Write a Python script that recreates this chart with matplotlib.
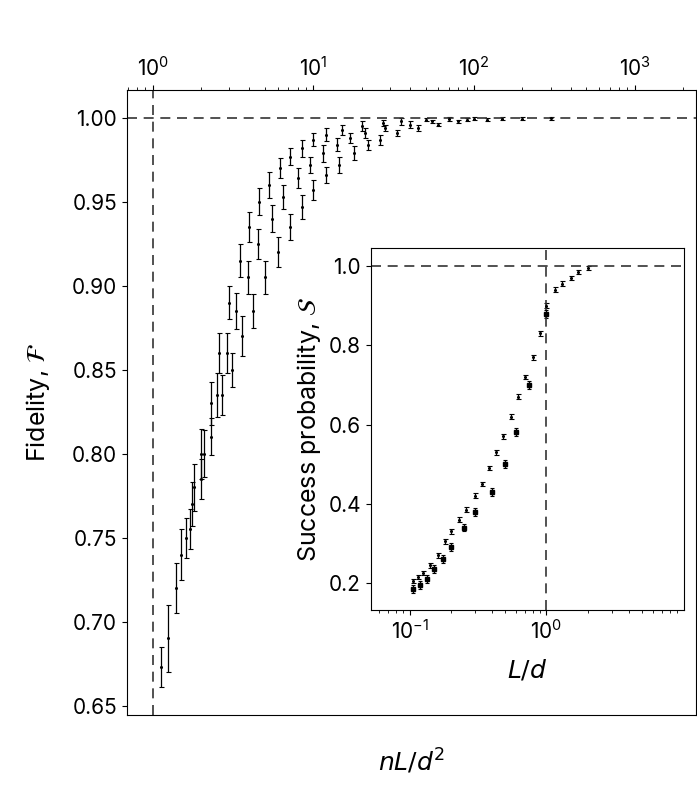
import matplotlib
matplotlib.use("Agg")
import matplotlib.pyplot as plt
import numpy as np

plt.rcParams["font.family"] = "Inter"
plt.rcParams["mathtext.fontset"] = "dejavusans"

# main panel: fidelity vs nL/d^2 (two families of points)
x_up = [1.12, 1.25, 1.4, 1.6, 1.8, 2.0, 2.3, 2.6, 3.0, 3.5, 4.0, 4.6, 5.3, 6.2, 7.2, 8.5, 10, 12, 15, 20, 27, 35, 50, 70, 100]
f_up = [0.673, 0.69, 0.72, 0.75, 0.78, 0.80, 0.83, 0.86, 0.89, 0.915, 0.935, 0.95, 0.96, 0.97, 0.977, 0.982, 0.987, 0.99, 0.993, 0.995, 0.997, 0.998, 0.999, 0.9993, 0.9996]
e_up = [0.012, 0.02, 0.015, 0.012, 0.014, 0.015, 0.013, 0.012, 0.01, 0.01, 0.009, 0.008, 0.008, 0.006, 0.005, 0.005, 0.004, 0.004, 0.003, 0.003, 0.002, 0.002, 0.001, 0.001, 0.001]
x_mid = [1.5, 1.75, 2.1, 2.5, 2.9, 3.3, 3.9, 4.5, 5.5, 6.5, 8.0, 9.5, 11.5, 14, 17, 21, 28, 40, 55, 90, 150]
f_mid = [0.74, 0.77, 0.80, 0.835, 0.86, 0.885, 0.905, 0.925, 0.94, 0.953, 0.964, 0.972, 0.979, 0.984, 0.988, 0.991, 0.994, 0.996, 0.998, 0.999, 0.9995]
e_mid = [0.015, 0.013, 0.014, 0.013, 0.012, 0.011, 0.01, 0.009, 0.008, 0.007, 0.006, 0.005, 0.005, 0.004, 0.003, 0.003, 0.002, 0.002, 0.001, 0.001, 0.001]
x_lo = [1.7, 2.0, 2.3, 2.7, 3.1, 3.6, 4.2, 5.0, 6.0, 7.2, 8.5, 10, 12, 14.5, 18, 22, 26, 33, 45, 60, 80, 120, 200, 300]
f_lo = [0.755, 0.785, 0.81, 0.835, 0.85, 0.87, 0.885, 0.905, 0.92, 0.935, 0.947, 0.957, 0.966, 0.972, 0.979, 0.984, 0.987, 0.991, 0.994, 0.996, 0.998, 0.999, 0.9995, 0.9998]
e_lo = [0.012, 0.012, 0.011, 0.012, 0.01, 0.012, 0.01, 0.01, 0.009, 0.008, 0.007, 0.006, 0.005, 0.005, 0.004, 0.003, 0.003, 0.002, 0.002, 0.001, 0.001, 0.001, 0.001, 0.001]

# inset: success probability vs L/d
l_up = [0.105, 0.115, 0.125, 0.14, 0.16, 0.18, 0.2, 0.23, 0.26, 0.3, 0.34, 0.38, 0.43, 0.48, 0.55, 0.62, 0.7, 0.8, 0.9, 1.0, 1.15, 1.3, 1.5, 1.7, 2.0]
s_up = [0.205, 0.215, 0.225, 0.245, 0.27, 0.305, 0.33, 0.36, 0.385, 0.42, 0.45, 0.49, 0.53, 0.57, 0.62, 0.67, 0.72, 0.77, 0.83, 0.9, 0.94, 0.955, 0.97, 0.985, 0.995]
l_lo = [0.105, 0.12, 0.135, 0.15, 0.175, 0.2, 0.25, 0.3, 0.4, 0.5, 0.6, 0.75, 1.0]
s_lo = [0.185, 0.195, 0.21, 0.235, 0.26, 0.29, 0.34, 0.38, 0.43, 0.5, 0.58, 0.7, 0.88]

fig = plt.figure(figsize=(6.97, 7.88), dpi=100)
ax = fig.add_axes([0.182, 0.093, 0.816, 0.793])
for xs, ys, es in [(x_up, f_up, e_up), (x_mid, f_mid, e_mid), (x_lo, f_lo, e_lo)]:
    ax.errorbar(xs, ys, yerr=es, fmt="o", ms=1.2, color="black", ecolor="black",
                elinewidth=0.9, capsize=1.8, capthick=0.8)
ax.axhline(1.0, color="#333333", ls=(0, (6, 4)), lw=1.2)
ax.axvline(1.0, color="#333333", ls=(0, (6, 4)), lw=1.2)
ax.set_xscale("log")
ax.set_xlim(0.69, 2400)
ax.set_ylim(0.6446, 1.0167)
ax.xaxis.tick_top()
ax.set_yticks([0.65, 0.70, 0.75, 0.80, 0.85, 0.90, 0.95, 1.00])
ax.set_yticklabels(["0.65", "0.70", "0.75", "0.80", "0.85", "0.90", "0.95", "1.00"])
ax.tick_params(labelsize=15)
ax.set_ylabel(r"Fidelity, $\mathcal{F}$", fontsize=18, labelpad=14)
fig.text(0.59, 0.022, r"$nL/d^2$", fontsize=18, ha="center")

ins = fig.add_axes([0.532, 0.226, 0.450, 0.459])
ins.errorbar(l_up, s_up, yerr=0.006, fmt="o", ms=1.2, color="black",
             elinewidth=0.9, capsize=1.8, capthick=0.8)
ins.errorbar(l_lo, s_lo, yerr=0.01, fmt="s", ms=2.5, color="black",
             elinewidth=0.9, capsize=1.5, capthick=0.8)
ins.axhline(1.0, color="#333333", ls=(0, (6, 4)), lw=1.2)
ins.axvline(1.0, color="#333333", ls=(0, (6, 4)), lw=1.2)
ins.set_xscale("log")
ins.set_xlim(0.052, 10.2)
ins.set_ylim(0.132, 1.045)
ins.set_yticks([0.2, 0.4, 0.6, 0.8, 1.0])
ins.set_xticks([0.1, 1.0])
ins.tick_params(labelsize=15)
ins.set_ylabel(r"Success probability, $\mathcal{S}$", fontsize=18)
ins.set_xlabel(r"$L/d$", fontsize=18, labelpad=10)

fig.savefig("out.png", dpi=100)
